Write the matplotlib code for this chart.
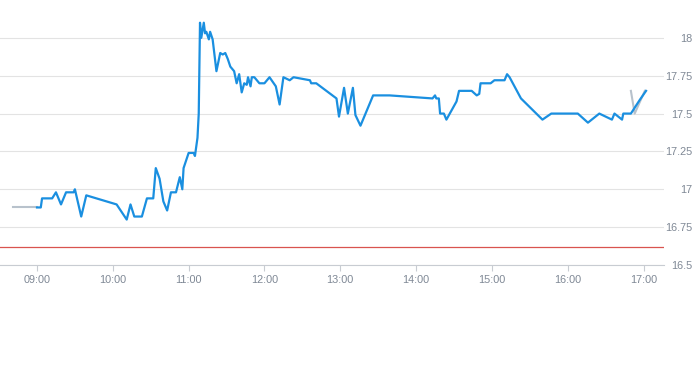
import matplotlib
matplotlib.use("Agg")
import matplotlib.pyplot as plt

# intraday price, times as HH:MM
times = ["09:00", "09:03", "09:04", "09:12", "09:15", "09:19", "09:23", "09:29", "09:30",
         "09:35", "09:39", "10:03", "10:11", "10:14", "10:17", "10:23", "10:27", "10:32",
         "10:34", "10:37", "10:40", "10:43", "10:46", "10:50", "10:53", "10:55", "10:56",
         "11:00", "11:04", "11:05", "11:07", "11:08", "11:09", "11:10", "11:12", "11:13",
         "11:14", "11:16", "11:17", "11:19", "11:22", "11:25", "11:27", "11:29", "11:31",
         "11:33", "11:36", "11:38", "11:40", "11:42", "11:44", "11:46", "11:47", "11:49",
         "11:50", "11:52", "11:56", "12:00", "12:04", "12:09", "12:12", "12:15", "12:20",
         "12:23", "12:36", "12:37", "12:41", "12:57", "12:59", "13:03", "13:06", "13:10",
         "13:12", "13:16", "13:26", "13:39", "14:13", "14:15", "14:16", "14:18", "14:19",
         "14:22", "14:24", "14:32", "14:34", "14:44", "14:48", "14:50", "14:51", "14:59",
         "15:02", "15:10", "15:12", "15:14", "15:23", "15:40", "15:47", "16:08", "16:16",
         "16:25", "16:35", "16:37", "16:43", "16:44", "16:50", "16:57", "17:02"]
prices = [16.88, 16.88, 16.94, 16.94, 16.98, 16.90, 16.98, 16.98, 17.00,
          16.82, 16.96, 16.90, 16.80, 16.90, 16.82, 16.82, 16.94, 16.94,
          17.14, 17.07, 16.92, 16.86, 16.98, 16.98, 17.08, 17.00, 17.14,
          17.24, 17.24, 17.22, 17.34, 17.50, 18.10, 18.00, 18.10, 18.03,
          18.04, 17.99, 18.04, 17.99, 17.78, 17.90, 17.89, 17.90, 17.86,
          17.81, 17.78, 17.70, 17.76, 17.64, 17.70, 17.69, 17.74, 17.68,
          17.74, 17.74, 17.70, 17.70, 17.74, 17.68, 17.56, 17.74, 17.72,
          17.74, 17.72, 17.70, 17.70, 17.60, 17.48, 17.67, 17.50, 17.67,
          17.49, 17.42, 17.62, 17.62, 17.60, 17.62, 17.60, 17.60, 17.50,
          17.50, 17.46, 17.58, 17.65, 17.65, 17.62, 17.63, 17.70, 17.70,
          17.72, 17.72, 17.76, 17.74, 17.60, 17.46, 17.50, 17.50, 17.44,
          17.50, 17.46, 17.50, 17.46, 17.50, 17.50, 17.59, 17.65]

# grey pre-open segment and the grey tail at the end
pre_times = ["08:41", "09:00"]
pre_prices = [16.88, 16.88]
tail_times = ["16:50", "16:53", "17:01"]
tail_prices = [17.65, 17.50, 17.65]

ref_price = 16.62
yticks = [16.5, 16.75, 17, 17.25, 17.5, 17.75, 18]
xticks = ["09:00", "10:00", "11:00", "12:00", "13:00", "14:00", "15:00", "16:00", "17:00"]


def hours(ts):
    return [int(t[:2]) + int(t[3:]) / 60 for t in ts]


fig = plt.figure(figsize=(6.93, 3.65), dpi=100)
ax = fig.add_axes([0, 1 - 265 / 365, 664 / 693, 265 / 365])

ax.axhline(ref_price, color="#d9534f", lw=0.9, zorder=2)
ax.plot(hours(pre_times), pre_prices, color="#b8c2cc", lw=1.5, zorder=3)
ax.plot(hours(times), prices, color="#1a8fe0", lw=1.6, zorder=4)
ax.plot(hours(tail_times), tail_prices, color="#b8c2cc", lw=1.5, zorder=3)

ax.set_xlim(8.512, 17.27)
ax.set_ylim(16.5, 18.25)

ax.set_xticks(hours(xticks))
ax.set_xticklabels(xticks)
ax.set_yticks(yticks)
ax.set_yticklabels(["%g" % v for v in yticks])

ax.yaxis.tick_right()
ax.grid(axis="y", color="#e3e3e3", lw=0.8)
ax.set_axisbelow(True)
for s in ["top", "left", "right"]:
    ax.spines[s].set_visible(False)
ax.spines["bottom"].set_color("#c8ccd2")

lab = "#7f8895"
ax.tick_params(axis="x", length=4, color="#c8ccd2", labelsize=7.8, labelcolor=lab, pad=3)
ax.tick_params(axis="y", length=0, labelsize=7.8, labelcolor=lab, pad=20.5)
for t in ax.get_yticklabels():
    t.set_horizontalalignment("right")
    t.set_fontfamily("Liberation Sans")
for t in ax.get_xticklabels():
    t.set_fontfamily("Liberation Sans")

fig.savefig("out.png", dpi=100)
